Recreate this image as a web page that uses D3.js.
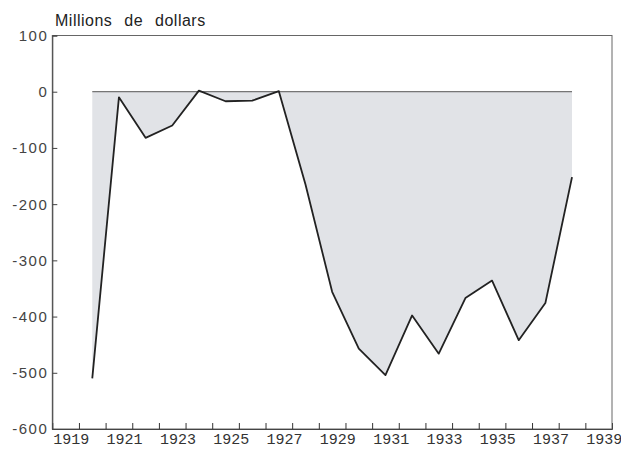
<!DOCTYPE html>
<html lang="fr">
<head>
    <meta charset="UTF-8">
    <title>Millions de dollars</title>
    <script src="https://cdn.jsdelivr.net/npm/d3@7/dist/d3.min.js"></script>
    <style>
        body { margin:0; background:#fff; }
    </style>
</head>
<body>
<div id="grafica"></div>
<script>
// datos
years = [1920,1921,1922,1923,1924,1925,1926,1927,1928,1929,1930,1931,1932,1933,1934,1935,1936,1937,1938]
values = [-510,-10,-82,-60,2,-17,-16,1,-165,-356,-457,-504,-398,-466,-367,-336,-442,-376,-152]
yTicks = [100,0,-100,-200,-300,-400,-500,-600]
xTickYears = d3.range(1920,1940)
xLabels = [1919,1921,1923,1925,1927,1929,1931,1933,1935,1937,1939]
titulo = 'Millions de dollars'

ancho_total = 621
alto_total = 449
margin = {top:35.5, right:9, bottom:20, left:52.3}
ancho = ancho_total-margin.left-margin.right
alto = alto_total-margin.top-margin.bottom

data = years.map((d,i)=>({year:d, value:values[i]}))

svg = d3.select('#grafica')
        .append('svg')
        .attr('width',ancho_total)
        .attr('height',alto_total)

g = svg.append('g')
        .attr('transform','translate('+margin.left+','+margin.top+')')

x = d3.scaleLinear()
    .domain([1919,1940])
    .range([0,ancho])

y = d3.scaleLinear()
    .domain([-600,100])
    .range([alto,0])

// area gris entre la curva y cero (puntos a mitad de año)
area = d3.area()
    .x(d=>x(d.year+0.5))
    .y0(y(0))
    .y1(d=>y(d.value))

g.append('path')
    .datum(data)
    .attr('fill','#e1e3e7')
    .attr('d',area)

g.append('line')
    .attr('x1',x(years[0]+0.5))
    .attr('x2',x(years[years.length-1]+0.5))
    .attr('y1',y(0))
    .attr('y2',y(0))
    .attr('stroke','#555')
    .attr('stroke-width',1)

linea = d3.line()
    .x(d=>x(d.year+0.5))
    .y(d=>y(d.value))

g.append('path')
    .datum(data)
    .attr('fill','none')
    .attr('stroke','#222')
    .attr('stroke-width',1.8)
    .attr('stroke-linejoin','round')
    .attr('d',linea)

// marco
g.append('rect')
    .attr('x',0)
    .attr('y',0)
    .attr('width',ancho)
    .attr('height',alto)
    .attr('fill','none')
    .attr('stroke','#666')
    .attr('stroke-width',1)

// eje y
yAxisCall = d3.axisRight(y)
    .tickValues(yTicks)
    .tickSize(5)
    .tickFormat('')
yAxis = g.append('g').call(yAxisCall)
yAxis.select('.domain').attr('stroke','#444')
yAxis.selectAll('.tick line').attr('stroke','#444')

g.selectAll('.ylab')
    .data(yTicks)
    .enter()
    .append('text')
    .attr('class','ylab')
    .attr('x',-4)
    .attr('y',d=>y(d))
    .attr('dy','0.36em')
    .attr('text-anchor','end')
    .attr('font-family','Liberation Sans, Arial, sans-serif')
    .attr('font-size',15)
    .attr('letter-spacing',1.5)
    .attr('fill','#444')
    .text(d=>d)

// eje x
xAxisCall = d3.axisTop(x)
    .tickValues(xTickYears)
    .tickSize(6)
    .tickFormat('')
xAxis = g.append('g')
    .attr('transform','translate(0,'+alto+')')
    .call(xAxisCall)
xAxis.select('.domain').attr('stroke','#444')
xAxis.selectAll('.tick line').attr('stroke','#333')

g.selectAll('.xlab')
    .data(xLabels)
    .enter()
    .append('text')
    .attr('class','xlab')
    .attr('x',d=>x(d)+1)
    .attr('y',alto+15)
    .attr('text-anchor','start')
    .attr('font-family','Liberation Mono, Courier New, monospace')
    .attr('font-size',15)
    .attr('fill','#333')
    .text(d=>d)

// titulo
svg.append('text')
    .attr('x',55)
    .attr('y',26)
    .attr('font-family','Liberation Sans, Arial, sans-serif')
    .attr('font-size',16)
    .attr('letter-spacing',0.5)
    .attr('word-spacing',7)
    .attr('fill','#222')
    .text(titulo)
</script>
</body>
</html>
